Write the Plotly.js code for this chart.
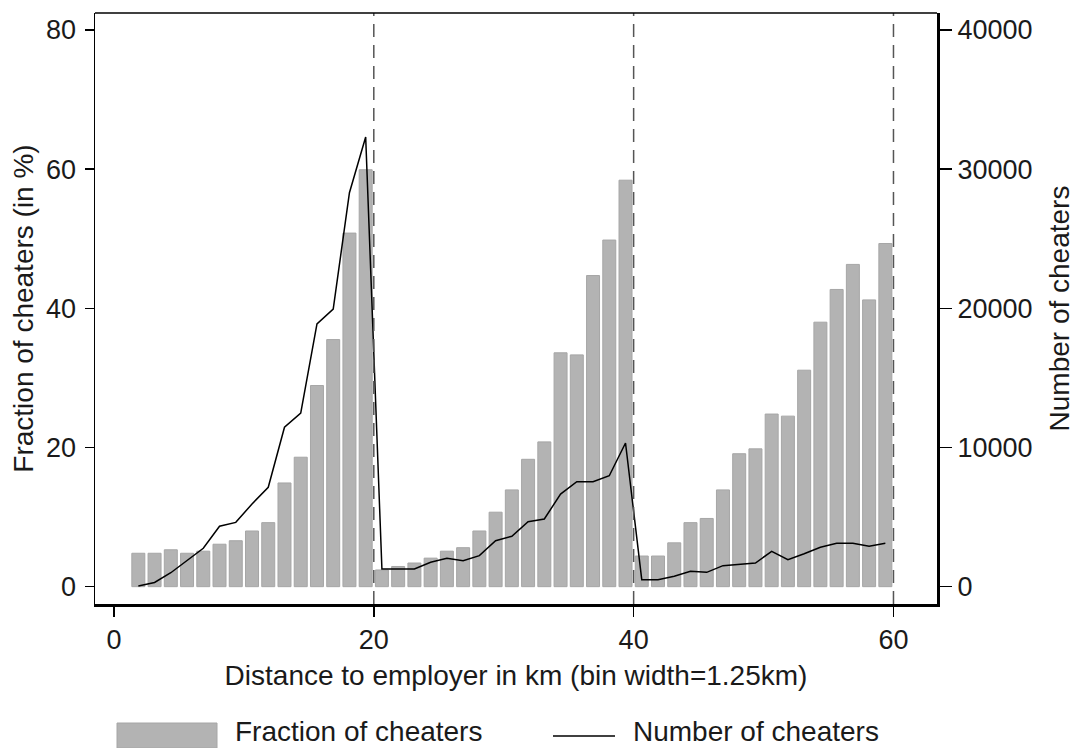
<!DOCTYPE html>
<html>
<head>
<meta charset="utf-8">
<script src="https://cdn.plot.ly/plotly-3.0.1.min.js"></script>
<style>html,body{margin:0;padding:0;background:#fff;}#chart{width:1075px;height:748px;}</style>
</head>
<body>
<div id="chart"></div>
<script>
// Bin centers (km), bin width = 1.25 km
const distance = [1.875, 3.125, 4.375, 5.625, 6.875, 8.125, 9.375, 10.625, 11.875, 13.125, 14.375, 15.625, 16.875, 18.125, 19.375,
  20.625, 21.875, 23.125, 24.375, 25.625, 26.875, 28.125, 29.375, 30.625, 31.875, 33.125, 34.375, 35.625, 36.875, 38.125, 39.375,
  40.625, 41.875, 43.125, 44.375, 45.625, 46.875, 48.125, 49.375, 50.625, 51.875, 53.125, 54.375, 55.625, 56.875, 58.125, 59.375];

// Fraction of cheaters (in %)
const fraction = [4.8, 4.8, 5.3, 4.8, 5.1, 6.1, 6.6, 8.0, 9.2, 14.9, 18.6, 28.9, 35.5, 50.8, 59.9,
  2.4, 2.9, 3.4, 4.1, 5.1, 5.6, 8.0, 10.7, 13.9, 18.3, 20.8, 33.6, 33.3, 44.7, 49.8, 58.4,
  4.4, 4.4, 6.3, 9.2, 9.8, 13.9, 19.1, 19.8, 24.8, 24.5, 31.1, 38.0, 42.7, 46.3, 41.2, 49.3];

// Number of cheaters
const number = [50, 300, 1000, 1870, 2760, 4340, 4620, 5940, 7140, 11450, 12470, 18870, 19940, 28300, 32300,
  1270, 1270, 1270, 1750, 2040, 1870, 2230, 3300, 3620, 4670, 4860, 6650, 7540, 7540, 7970, 10320,
  500, 500, 750, 1100, 1030, 1510, 1610, 1700, 2540, 1940, 2370, 2830, 3120, 3120, 2900, 3120];

const cutoffs = [20, 40, 60];
const xTicks = [0, 20, 40, 60];
const yTicks = [0, 20, 40, 60, 80];
const y2Ticks = [0, 10000, 20000, 30000, 40000];

const FONT = 'Liberation Sans, Arial, sans-serif';
const TXT = '#1a1a1a';
const FS = 28;   // titles and legend
const TFS = 27;  // tick labels

const traces = [
  {
    type: 'bar', x: distance, y: fraction, name: 'Fraction of cheaters',
    width: 1.0,
    marker: {color: '#b3b3b3', line: {color: '#a6a6a6', width: 1}},
    yaxis: 'y', hoverinfo: 'x+y'
  },
  {
    type: 'scatter', mode: 'lines', x: distance, y: number, name: 'Number of cheaters',
    line: {color: '#000000', width: 1.5},
    yaxis: 'y2'
  }
];

const shapes = cutoffs.map(c => ({
  type: 'line', xref: 'x', yref: 'paper', x0: c, x1: c, y0: 0, y1: 1,
  line: {color: '#555555', width: 1.5, dash: '13px,8px'}, layer: 'above'
}));
// top frame line
shapes.push({type: 'line', xref: 'paper', yref: 'paper', x0: 0, x1: 1, y0: 1, y1: 1,
  line: {color: '#000', width: 1.5}});
// legend key: grey box and black line
shapes.push({type: 'rect', xref: 'paper', yref: 'paper', x0: (117-95)/842, x1: (217-95)/842,
  y0: (604-748)/591, y1: (604-723)/591, fillcolor: '#b3b3b3', line: {color: '#a6a6a6', width: 1}});
shapes.push({type: 'line', xref: 'paper', yref: 'paper', x0: (553-95)/842, x1: (615-95)/842,
  y0: (604-736)/591, y1: (604-736)/591, line: {color: '#000', width: 1.5}});

const annotations = [
  {xref: 'paper', yref: 'paper', x: (234-95)/842, y: (604-731)/591, xanchor: 'left', yanchor: 'middle',
   text: 'Fraction of cheaters', showarrow: false, borderpad: 0, font: {family: FONT, size: FS, color: TXT}},
  {xref: 'paper', yref: 'paper', x: (632-95)/842, y: (604-731)/591, xanchor: 'left', yanchor: 'middle',
   text: 'Number of cheaters', showarrow: false, borderpad: 0, font: {family: FONT, size: FS, color: TXT}}
];

const layout = {
  width: 1075, height: 748,
  margin: {l: 95, r: 138, t: 13, b: 144},
  paper_bgcolor: '#ffffff', plot_bgcolor: '#ffffff',
  showlegend: false,
  bargap: 0,
  font: {family: FONT, size: FS, color: TXT},
  xaxis: {
    range: [-1.46, 63.35], tickvals: xTicks, ticktext: xTicks.map(String),
    showgrid: false, zeroline: false,
    showline: true, linecolor: '#000', linewidth: 3,
    ticks: 'outside', ticklen: 10, tickwidth: 1.5, tickcolor: '#000',
    tickfont: {family: FONT, size: TFS, color: TXT},
    title: {text: 'Distance to employer in km (bin width=1.25km)', font: {family: FONT, size: FS, color: TXT}, standoff: 11}
  },
  yaxis: {
    range: [-2.49, 82.42], tickvals: yTicks, ticktext: yTicks.map(String),
    showgrid: false, zeroline: false,
    showline: true, linecolor: '#000', linewidth: 1.5,
    ticks: 'outside', ticklen: 9, tickwidth: 1.5, tickcolor: '#000',
    ticklabelstandoff: 3,
    tickfont: {family: FONT, size: TFS, color: TXT},
    title: {text: 'Fraction of cheaters (in %)', font: {family: FONT, size: FS, color: TXT}, standoff: 4}
  },
  yaxis2: {
    overlaying: 'y', side: 'right',
    range: [-1245, 41210], tickvals: y2Ticks, ticktext: y2Ticks.map(String),
    showgrid: false, zeroline: false,
    showline: true, linecolor: '#000', linewidth: 3,
    ticks: 'outside', ticklen: 12, tickwidth: 1.5, tickcolor: '#000',
    tickfont: {family: FONT, size: TFS, color: TXT},
    title: {text: 'Number of cheaters', font: {family: FONT, size: FS, color: TXT}, standoff: 20}
  },
  shapes: shapes,
  annotations: annotations
};

Plotly.newPlot('chart', traces, layout, {displayModeBar: false, staticPlot: true});
</script>
</body>
</html>
